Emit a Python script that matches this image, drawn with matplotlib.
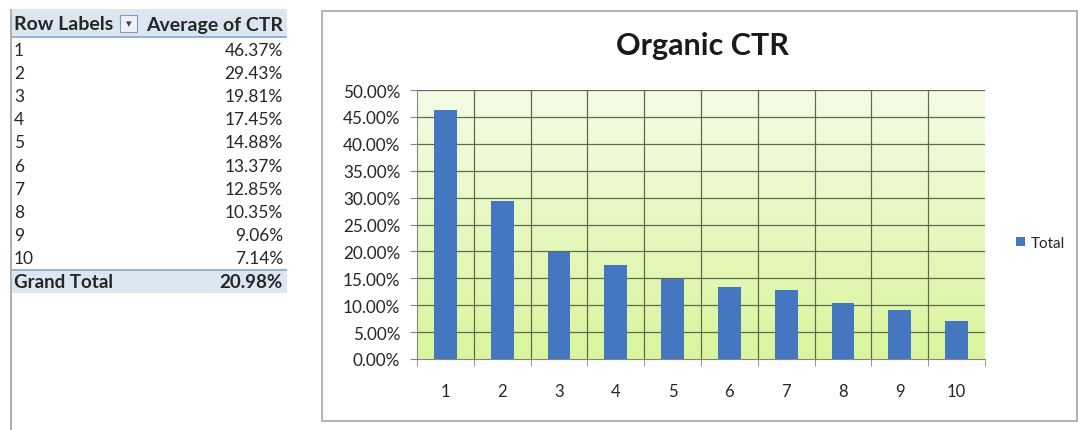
"""
Organic CTR pivot table and bar chart.
"""

import matplotlib.pyplot as plt
import numpy as np
from matplotlib.colors import LinearSegmentedColormap
from matplotlib.patches import Rectangle

positions = ["1", "2", "3", "4", "5", "6", "7", "8", "9", "10"]
ctr = [46.37, 29.43, 19.81, 17.45, 14.88, 13.37, 12.85, 10.35, 9.06, 7.14]
grand_total = 20.98
y_ticks = [0, 5, 10, 15, 20, 25, 30, 35, 40, 45, 50]

W, H = 1078, 431
FONT = ["Lato", "DejaVu Sans"]
TXT = "#262626"

plt.rcParams["font.family"] = FONT
fig = plt.figure(figsize=(W / 100, H / 100), dpi=100)


def px(x, y):
    """pixel coords (top-left origin) -> figure fraction"""
    return x / W, 1 - y / H


def rect(x0, y0, x1, y1, **kw):
    fx, fy = px(x0, y1)
    fig.patches.append(
        Rectangle((fx, fy), (x1 - x0) / W, (y1 - y0) / H,
                  transform=fig.transFigure, zorder=-1, **kw)
    )


# pivot table
rect(11, 10, 287, 38, facecolor="#dce6f1", edgecolor="none")
rect(11, 37, 287, 38.5, facecolor="#95b3d7", edgecolor="none")
rect(11, 271, 287, 294, facecolor="#dce6f1", edgecolor="none")
rect(11, 270, 287, 271.5, facecolor="#95b3d7", edgecolor="none")
rect(10, 10, 11.5, 431, facecolor="#b0b0b0", edgecolor="none")
# dropdown button
rect(120, 16, 137, 33, facecolor="#eef2f8", edgecolor="#8a9ab5", linewidth=0.8)
fig.text(*px(128.5, 24.5), "\u25be", ha="center", va="center",
         fontsize=8, color="#404040", family="DejaVu Sans")

fig.text(*px(14, 25), "Row Labels", ha="left", va="center",
         fontsize=14, fontweight="bold", color=TXT)
fig.text(*px(283, 25), "Average of CTR", ha="right", va="center",
         fontsize=14, fontweight="bold", color=TXT)

row_h = 23.1
for i, (lab, v) in enumerate(zip(positions, ctr)):
    y = 51 + i * row_h
    fig.text(*px(14, y), lab, ha="left", va="center", fontsize=12.5, color=TXT)
    fig.text(*px(283, y), f"{v:.2f}%", ha="right", va="center",
             fontsize=12.5, color=TXT)
fig.text(*px(14, 283), "Grand Total", ha="left", va="center",
         fontsize=13.5, fontweight="bold", color=TXT)
fig.text(*px(283, 283), f"{grand_total:.2f}%", ha="right", va="center",
         fontsize=13.5, fontweight="bold", color=TXT)

# chart frame
rect(322, 12, 1077, 422, facecolor="white", edgecolor="#a6a6a6", linewidth=1.2)

fig.text(*px(703, 46), "Organic CTR", ha="center", va="center",
         fontsize=22, fontweight="bold", color="#1a1a1a")

# plot area
x0, y0, x1, y1 = 417, 91, 985, 360
ax = fig.add_axes([x0 / W, 1 - y1 / H, (x1 - x0) / W, (y1 - y0) / H])
ax.set_zorder(2)
ax.set_xlim(0.5, len(positions) + 0.5)
ax.set_ylim(0, 50)

cmap = LinearSegmentedColormap.from_list("bg", ["#d9f59c", "#f4fce6"])
grad = np.linspace(0, 1, 256).reshape(-1, 1)
ax.imshow(grad, cmap=cmap, origin="lower", aspect="auto",
          extent=[0.5, len(positions) + 0.5, 0, 50], zorder=0)

x = np.arange(1, len(positions) + 1)
ax.bar(x, ctr, width=0.4, color="#4477c0", zorder=3, label="Total")

grid_c = "#5f6b4f"
for yt in y_ticks[1:]:
    ax.axhline(yt, color=grid_c, linewidth=0.9, zorder=2)
for xb in np.arange(1.5, len(positions) + 0.5, 1):
    ax.axvline(xb, color=grid_c, linewidth=0.9, zorder=2)

for s in ["top", "right"]:
    ax.spines[s].set_visible(False)
ax.spines["left"].set_color("#868686")
ax.spines["bottom"].set_color("#868686")

ax.set_yticks(y_ticks)
ax.set_yticklabels([f"{t:.2f}%" for t in y_ticks])
ax.set_xticks(x)
ax.set_xticklabels(positions)
ax.set_xticks(np.arange(0.5, len(positions) + 1, 1), minor=True)
ax.tick_params(axis="x", which="major", length=0, pad=17,
               labelsize=12, labelcolor=TXT)
ax.tick_params(axis="x", which="minor", length=5, color="#868686",
               direction="out")
ax.tick_params(axis="y", length=5, color="#868686", pad=7,
               labelsize=12.3, labelcolor=TXT)

leg = fig.legend(handles=ax.patches[:1], labels=["Total"],
                 loc="center left", bbox_to_anchor=px(1008, 244),
                 frameon=False, fontsize=11, handlelength=0.6,
                 handleheight=0.6, handletextpad=0.4, borderpad=0)
for t in leg.get_texts():
    t.set_color(TXT)

fig.savefig("out.png", dpi=100)
